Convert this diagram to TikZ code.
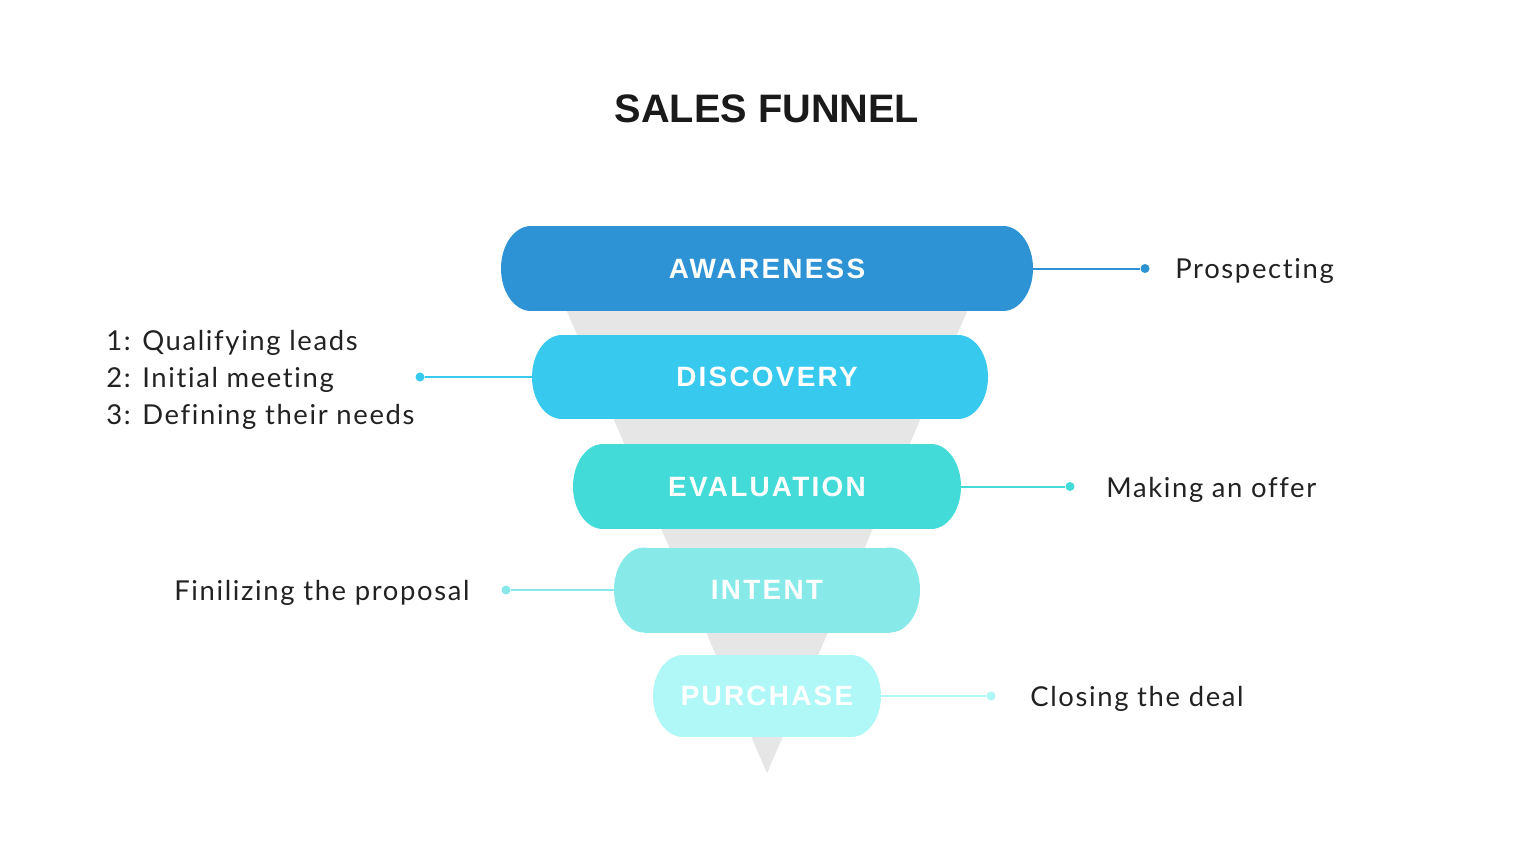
\documentclass[tikz,border=0pt]{standalone}
\usepackage{fontspec}
\setmainfont{Lato}
\newfontfamily\titlefont{Liberation Sans}
\newfontfamily\stagefont{Liberation Sans}[LetterSpace=8]
\newfontfamily\notefont{Lato}[LetterSpace=6,Ligatures=NoCommon]
\usetikzlibrary{backgrounds}
\definecolor{titleblack}{HTML}{1A1A1A}
\definecolor{notegrey}{HTML}{222222}
\definecolor{funnelgrey}{HTML}{E6E6E6}
\definecolor{awarenessblue}{HTML}{2E93D5}
\definecolor{discoveryblue}{HTML}{38C9EE}
\definecolor{evaluationteal}{HTML}{42DBD8}
\definecolor{intentteal}{HTML}{88EAE8}
\definecolor{purchaseteal}{HTML}{B0F8F8}

\begin{document}
\begin{tikzpicture}[x=0.02cm,y=-0.02cm,
  stage/.style={inner sep=0pt,text=white,font=\stagefont\bfseries\fontsize{15.9}{18}\selectfont},
  note/.style={anchor=west,align=left,inner sep=0pt,yshift=-0.06cm,text=notegrey,font=\notefont\fontsize{15.6}{21}\selectfont},
  pin/.style={circle,fill,inner sep=0pt,minimum size=0.18cm}]
  \useasboundingbox[fill=white] (0,0) rectangle (1534,852);
  \node[font=\titlefont\bfseries\fontsize{22.6}{26}\selectfont,text=titleblack] (title) at (767,109) {SALES FUNNEL};
  % grey funnel behind the stages
  \fill[funnelgrey] (549,270) -- (985,270) -- (767,773) -- cycle;
    \foreach \xl/\xr/\ypos/\hh/\mycolor/\stagename/\side/\dotx/\textx/\stagetext[count=\nn] in {%
        501/1033/268.5/42.5/awarenessblue/AWARENESS/east/1145/1175/{Prospecting},
        532/988/377/42/discoveryblue/DISCOVERY/west/420/106/{1: Qualifying leads\\2: Initial meeting\\3: Defining their needs},
        573/961/486.5/42.5/evaluationteal/EVALUATION/east/1070/1106/{Making an offer},
        614/920/590/42.5/intentteal/INTENT/west/506/174/{Finilizing the proposal},
        653/881/696/41/purchaseteal/PURCHASE/east/991/1030/{Closing the deal}%
    }{%
        \fill[\mycolor] (\xl+30,\ypos-\hh) rectangle (\xr-30,\ypos+\hh);
        \fill[\mycolor] (\xl+30,\ypos) ellipse [x radius=30,y radius=\hh];
        \fill[\mycolor] (\xr-30,\ypos) ellipse [x radius=30,y radius=\hh];
        \node[stage,minimum width=(\xr-\xl)*0.02cm,minimum height=2*\hh*0.02cm] (stage-\nn) at (767,\ypos) {\stagename};
        \node[pin,\mycolor] (pin-\nn) at (\dotx,\ypos) {};
        \draw[\mycolor,line width=0.04cm] (stage-\nn.\side) -- (pin-\nn);
        \node[note] (note-\nn) at (\textx,\ypos) {\stagetext};
    }
\end{tikzpicture}
\end{document}
